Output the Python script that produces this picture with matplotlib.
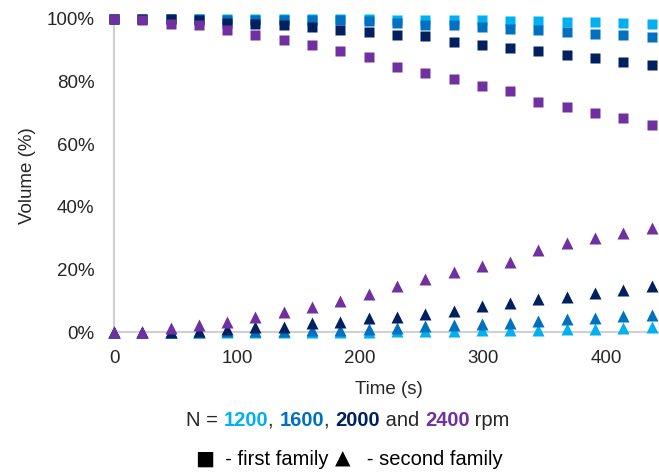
import matplotlib.pyplot as plt
from matplotlib.offsetbox import TextArea, HPacker, AnchoredOffsetbox

plt.rcParams['font.family'] = ['Liberation Sans', 'DejaVu Sans']

# time (s)
time_s = [0, 23, 46, 69, 92, 115, 138, 161, 184, 207,
          230, 253, 276, 299, 322, 345, 368, 391, 414, 437]

# first family (squares), volume %
sq_1200 = [100, 100, 100, 100, 100, 100, 100, 100, 100, 100,
           99.8, 99.7, 99.7, 99.5, 99.3, 99.2, 99.0, 98.9, 98.8, 98.3]
sq_1600 = [100, 100, 100, 100, 99.8, 99.7, 99.6, 99.5, 99.5, 99.3,
           98.6, 98.0, 97.9, 97.4, 96.9, 96.4, 95.8, 95.3, 95.0, 94.2]
sq_2000 = [100, 100, 100, 99.7, 98.6, 98.4, 98.0, 97.4, 96.5, 95.9,
           95.0, 94.4, 92.7, 91.8, 90.7, 89.7, 88.6, 87.4, 86.2, 85.2]
sq_2400 = [100, 99.5, 98.4, 97.9, 96.5, 95.0, 93.3, 91.8, 89.8, 87.8,
           84.8, 82.7, 80.8, 78.5, 77.0, 73.5, 72.0, 70.0, 68.5, 66.0]

# second family (triangles), volume %
tr_1200 = [0, 0, 0, 0, 0, 0, 0, 0, 0, 0,
           0.2, 0.3, 0.3, 0.5, 0.6, 0.8, 1.0, 1.1, 1.2, 1.7]
tr_1600 = [0, 0, 0, 0, 0.2, 0.3, 0.4, 0.6, 0.7, 0.9,
           1.4, 1.8, 2.1, 2.7, 2.9, 3.4, 4.2, 4.6, 5.0, 5.6]
tr_2000 = [0, 0, 0, 0.3, 0.9, 1.7, 1.7, 2.8, 3.3, 4.4,
           4.7, 5.8, 6.7, 8.3, 9.4, 10.4, 11.3, 12.4, 13.4, 14.8]
tr_2400 = [0, 0, 1.2, 2.2, 3.3, 4.9, 6.5, 7.9, 9.9, 12.0,
           14.8, 16.9, 19.1, 21.1, 22.5, 26.2, 28.3, 29.9, 31.5, 33.2]

speeds = ["1200", "1600", "2000", "2400"]
colors = ["#00B0F0", "#0070C0", "#002060", "#7030A0"]
y_ticks = [0, 20, 40, 60, 80, 100]
x_ticks = [0, 100, 200, 300, 400]

txt = "#262626"
fs = 13.5
fs_note = 14.5

fig = plt.figure(figsize=(6.59, 4.73), dpi=100)
ax = fig.add_axes([0.173, 0.298, 0.827, 0.662])

squares = [sq_1200, sq_1600, sq_2000, sq_2400]
triangles = [tr_1200, tr_1600, tr_2000, tr_2400]
for sq, c in zip(squares, colors):
    ax.plot(time_s, sq, ls="none", marker="s", ms=7, color=c,
            mec="none", clip_on=False)
for tr, c in zip(triangles, colors):
    ax.plot(time_s, tr, ls="none", marker="^", ms=8.5, color=c,
            mec="none", clip_on=False)

ax.set_xlim(0, 443)
ax.set_ylim(0, 100)
ax.set_xticks(x_ticks)
ax.set_yticks(y_ticks)
ax.set_yticklabels([f"{v}%" for v in y_ticks])
ax.tick_params(length=0, labelsize=fs, labelcolor=txt)
ax.tick_params(axis="y", pad=14)
ax.tick_params(axis="x", pad=13)
for s in ["top", "right"]:
    ax.spines[s].set_visible(False)
for s in ["left", "bottom"]:
    ax.spines[s].set_color("#D0D0D0")
    ax.spines[s].set_linewidth(1.5)
    ax.spines[s].set_zorder(0)

fig.text(0.041, 1 - 176 / 473, "Volume (%)", rotation=90, ha="center",
         va="center", fontsize=fs, color=txt)
fig.text(0.59, 1 - 389 / 473, "Time (s)", ha="center", va="center",
         fontsize=fs, color=txt)


def text_row(parts, x, y):
    areas = [TextArea(s, textprops=dict(color=c, fontweight=w, fontsize=fs_note,
                                        family=fam))
             for s, c, w, fam in parts]
    row = HPacker(children=areas, sep=0, pad=0, align="baseline")
    box = AnchoredOffsetbox(loc="center", child=row, frameon=False, pad=0,
                            borderpad=0, bbox_to_anchor=(x / 659, 1 - y / 473),
                            bbox_transform=fig.transFigure)
    fig.add_artist(box)


lib = ["Liberation Sans", "DejaVu Sans"]
dv = ["DejaVu Sans"]

# colored speed line
parts = [("N = ", txt, "normal", lib)]
for i, (sp, c) in enumerate(zip(speeds, colors)):
    parts.append((sp, c, "bold", lib))
    if i < 2:
        parts.append((", ", txt, "normal", lib))
    elif i == 2:
        parts.append((" and ", txt, "normal", lib))
parts.append((" rpm", txt, "normal", lib))
text_row(parts, 348, 420)

# marker key line
key = [("■", "black", "normal", dv), ("  - first family ", "black", "normal", lib),
       ("▲", "black", "normal", dv), ("   - second family", "black", "normal", lib)]
text_row(key, 349, 459)

fig.savefig("out.png", dpi=100)
